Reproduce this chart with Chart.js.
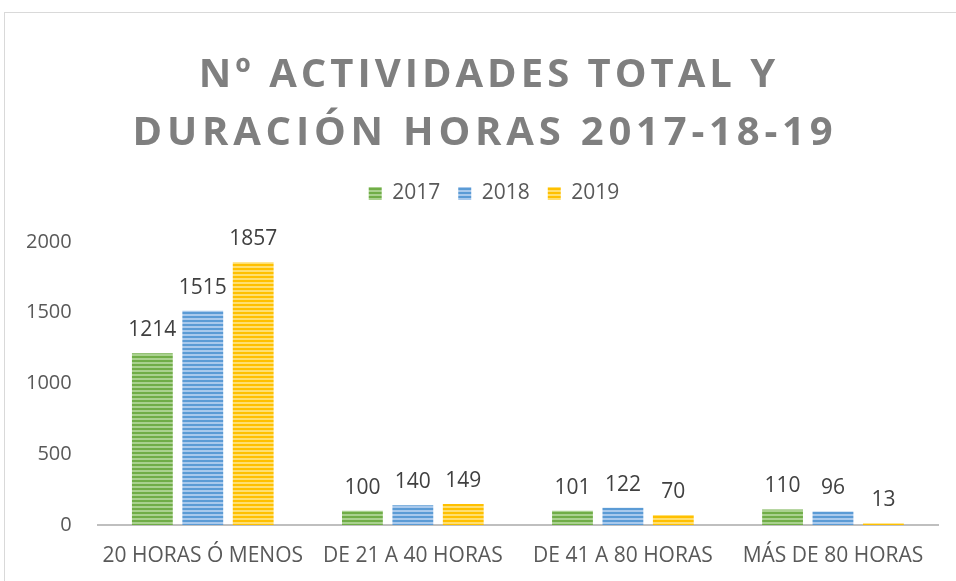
<!DOCTYPE html>
<html>
<head>
<meta charset="utf-8">
<script src="https://cdn.jsdelivr.net/npm/chart.js@4.4.1/dist/chart.umd.min.js"></script>
<style>
html,body{margin:0;padding:0;background:#fff;width:956px;height:581px;overflow:hidden;}
#frame{position:absolute;left:4px;top:12px;width:1000px;height:1000px;border:1px solid #d9d9d9;box-sizing:border-box;}
#wrap{position:absolute;left:0;top:0;width:956px;height:581px;}
</style>
</head>
<body>
<div id="frame"></div>
<div id="wrap"><canvas id="c" width="956" height="581"></canvas></div>
<script>
const titleLines = ['Nº ACTIVIDADES TOTAL Y', 'DURACIÓN HORAS 2017-18-19'];
const categories = ['20 HORAS Ó MENOS', 'DE 21 A 40 HORAS', 'DE 41 A 80 HORAS', 'MÁS DE 80 HORAS'];
const seriesNames = ['2017', '2018', '2019'];
const values2017 = [1214, 100, 101, 110];
const values2018 = [1515, 140, 122, 96];
const values2019 = [1857, 149, 70, 13];
const yTicks = [0, 500, 1000, 1500, 2000];

const FONT = "'Open Sans', sans-serif";
const PAD_TOP = 165;
const PLOT_TOP = 242;
const LEGEND_SHIFT = 25;

function stripes(dark, light) {
  const c = document.createElement('canvas');
  c.width = 4; c.height = 4;
  const x = c.getContext('2d');
  x.fillStyle = dark; x.fillRect(0, 0, 4, 4);
  x.fillStyle = light; x.fillRect(0, 2, 4, 2);
  return x.createPattern(c, 'repeat');
}
const fills = [
  stripes('#70ad47', '#a9d18e'),
  stripes('#5b9bd5', '#a9c9ec'),
  stripes('#ffc000', '#ffdf70')
];
const allValues = [values2017, values2018, values2019];

const titlePlugin = {
  id: 'spacedTitle',
  beforeLayout(chart) {
    const lg = chart.legend;
    if (lg && !lg._fixedH) {
      const f = lg.fit;
      lg.fit = function () { f.call(this); this.height = PLOT_TOP - PAD_TOP; };
      const d = lg.draw;
      lg.draw = function () {
        const ctx = this.ctx;
        ctx.save();
        ctx.translate(LEGEND_SHIFT, 0);
        d.apply(this, arguments);
        ctx.restore();
      };
      lg._fixedH = true;
    }
  },
  afterDraw(chart) {
    const ctx = chart.ctx;
    ctx.save();
    ctx.font = "bold 40px " + FONT;
    ctx.fillStyle = '#7f7f7f';
    ctx.textAlign = 'center';
    ctx.textBaseline = 'alphabetic';
    try { ctx.letterSpacing = '4px'; } catch (e) {}
    ctx.fillText(titleLines[0], 489, 87);
    try { ctx.letterSpacing = '4.8px'; } catch (e) {}
    ctx.fillText(titleLines[1], 485, 145);
    ctx.restore();
  }
};

const labelPlugin = {
  id: 'valueLabels',
  afterDatasetsDraw(chart) {
    const ctx = chart.ctx;
    ctx.save();
    ctx.font = "21px " + FONT;
    ctx.fillStyle = '#404040';
    ctx.textAlign = 'center';
    ctx.textBaseline = 'alphabetic';
    chart.data.datasets.forEach((ds, i) => {
      const meta = chart.getDatasetMeta(i);
      meta.data.forEach((el, j) => {
        ctx.fillText(String(ds.data[j]), el.x, el.y - 17);
      });
    });
    ctx.restore();
  }
};

new Chart(document.getElementById('c'), {
  type: 'bar',
  data: {
    labels: categories,
    datasets: seriesNames.map((n, i) => ({
      label: n,
      data: allValues[i],
      backgroundColor: fills[i],
      borderWidth: 0,
      categoryPercentage: 0.72,
      barPercentage: 0.81
    }))
  },
  options: {
    responsive: false,
    animation: false,
    devicePixelRatio: 1,
    layout: { padding: { top: PAD_TOP, left: 0, right: 18, bottom: 0 } },
    plugins: {
      title: { display: false },
      tooltip: { enabled: false },
      legend: {
        display: true,
        position: 'top',
        labels: {
          boxWidth: 13,
          boxHeight: 13,
          padding: 18,
          color: '#595959',
          font: { size: 21, family: FONT }
        }
      }
    },
    scales: {
      x: {
        grid: { display: false, drawTicks: false },
        border: { display: true, color: '#bfbfbf', width: 2 },
        ticks: { color: '#595959', font: { size: 21, family: FONT }, padding: 18, maxRotation: 0 },
        afterFit(scale) { scale.height = 56; }
      },
      y: {
        min: 0,
        max: 2000,
        afterBuildTicks(axis) { axis.ticks = yTicks.map(v => ({ value: v })); },
        grid: { display: false, drawTicks: false },
        border: { display: false },
        ticks: { color: '#595959', font: { size: 20, family: FONT }, padding: 26, callback: v => String(v) }
      }
    }
  },
  plugins: [titlePlugin, labelPlugin]
});
</script>
</body>
</html>
